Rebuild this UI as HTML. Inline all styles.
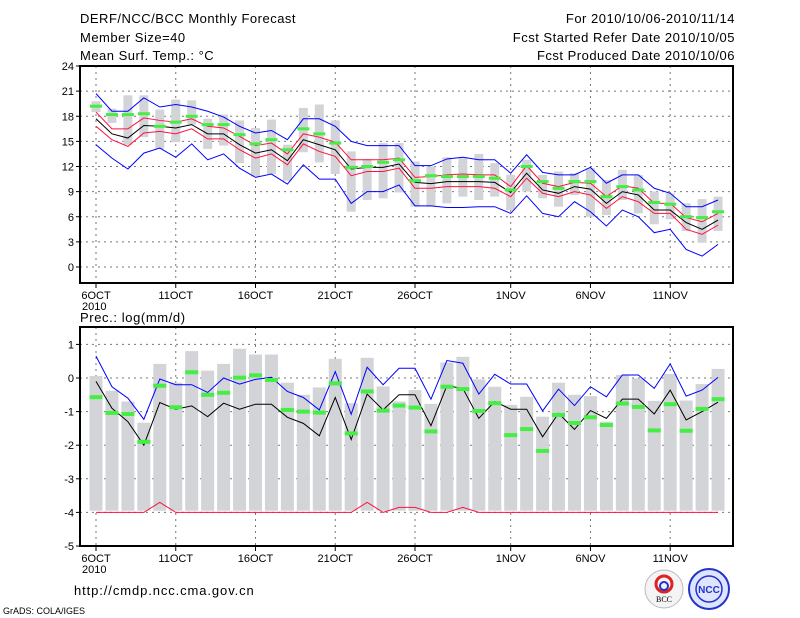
<!DOCTYPE html>
<html><head><meta charset="utf-8"><style>
body{margin:0;background:#fff;}
svg{display:block;font-family:"Liberation Sans",sans-serif;}
</style></head><body>
<svg id="c" width="800" height="618" viewBox="0 0 800 618">
<g font-size="13" fill="#000" letter-spacing="0.5">
<text x="80" y="23">DERF/NCC/BCC Monthly Forecast</text>
<text x="80" y="42">Member Size=40</text>
<text x="80" y="60">Mean Surf. Temp.: °C</text>
<text x="735" y="23" text-anchor="end">For 2010/10/06-2010/11/14</text>
<text x="735" y="42" text-anchor="end">Fcst Started Refer Date 2010/10/05</text>
<text x="735" y="60" text-anchor="end">Fcst Produced Date 2010/10/06</text>
</g>
<text x="80" y="322" font-size="13" letter-spacing="0.6">Prec.: log(mm/d)</text>
<text x="74" y="595" font-size="13" letter-spacing="0.9">http://cmdp.ncc.cma.gov.cn</text>
<text x="3" y="614" font-size="9">GrADS: COLA/IGES</text>
<g>
<circle cx="664" cy="589" r="19" fill="#f4f4f4" stroke="#bbb"/>
<circle cx="664" cy="584" r="8" fill="none" stroke="#d22" stroke-width="3"/>
<circle cx="664" cy="586" r="4" fill="none" stroke="#23c" stroke-width="2"/>
<text x="664" y="602" font-size="8" text-anchor="middle" font-family="Liberation Serif,serif">BCC</text>
</g>
<g>
<circle cx="709" cy="589" r="20" fill="#dfe4ff" stroke="#23c" stroke-width="2"/>
<circle cx="709" cy="589" r="13" fill="none" stroke="#23c" stroke-width="1.5"/>
<text x="709" y="593" font-size="10" text-anchor="middle" fill="#23c" font-weight="bold">NCC</text>
</g>
</svg>
<script>
const days=["6OCT","11OCT","16OCT","21OCT","26OCT","1NOV","6NOV","11NOV"];
const dayIdx=[0,5,10,15,20,26,31,36];
const tTicks=[0,3,6,9,12,15,18,21,24];
const pTicks=[-5,-4,-3,-2,-1,0,1];
const tBlack=[17.7,15.9,15.4,16.9,16.8,16.6,17.0,15.9,15.9,14.6,13.6,14.0,12.7,15.2,14.6,14.0,11.7,11.9,11.9,12.3,10.1,9.95,10.2,10.2,10.2,10.1,8.9,11.2,9.2,8.8,9.6,9.3,7.6,9.0,8.6,6.8,6.8,5.3,4.5,5.6];
const tRedHi=[18.5,16.5,16.5,17.8,17.5,17.3,17.7,16.8,16.6,15.6,14.5,14.8,13.5,15.9,15.5,14.9,12.8,12.8,12.8,13.0,10.7,10.8,11.0,11.1,11.0,11.0,9.6,12.1,10.0,9.6,10.1,10.0,8.4,9.7,9.4,7.6,7.6,5.9,5.4,6.4];
const tRedLo=[16.8,15.2,14.4,16.0,16.2,15.9,16.5,15.3,15.3,14.0,13.0,13.5,12.2,14.7,13.8,13.2,10.9,11.4,11.4,11.8,9.4,9.4,9.6,9.6,9.6,9.4,8.4,10.6,8.8,8.4,9.0,8.6,7.0,8.4,7.8,6.4,6.4,4.5,3.9,5.0];
const tBlueHi=[20.7,18.6,18.6,20.2,19.1,19.4,19.1,18.6,17.9,16.8,16.0,16.3,15.2,17.7,17.7,16.8,15.0,14.5,14.5,14.5,12.1,12.1,12.9,13.1,12.8,12.8,11.2,13.4,11.3,11.0,11.0,11.9,10.0,11.0,11.0,9.4,8.8,7.2,7.2,8.0];
const tBlueLo=[14.6,13.0,11.7,13.6,14.2,13.1,14.7,12.8,13.5,11.8,10.7,11.1,9.9,12.2,10.5,10.5,7.6,9.0,9.0,9.8,7.3,7.3,7.1,7.1,7.2,7.2,6.4,8.5,6.4,6.0,7.8,6.6,4.9,6.8,6.0,4.1,4.5,2.1,1.3,2.7];
const tObs=[19.2,18.2,18.2,18.3,16.8,17.3,18.0,17.0,17.0,15.8,14.7,15.2,14.0,16.5,15.9,14.8,11.9,12.0,12.5,12.8,10.3,10.9,10.8,10.8,10.8,10.6,9.2,12.0,10.2,9.4,10.2,10.2,8.4,9.6,9.2,7.7,7.5,6.0,5.9,6.6];
const tBarHi=[19.8,18.9,20.5,20.5,18.8,20.0,19.9,17.7,18.2,17.5,16.6,17.6,14.6,19.0,19.4,17.5,13.8,12.9,14.8,14.8,12.6,12.0,13.1,13.0,13.5,12.4,11.0,12.8,11.0,11.4,11.2,11.8,10.4,11.6,11.0,9.0,8.8,7.6,8.1,8.4];
const tBarLo=[18.5,17.2,14.6,15.5,14.1,14.9,17.0,14.1,14.5,12.4,10.8,11.1,10.3,13.7,12.5,11.1,6.6,8.0,8.2,8.9,7.2,7.2,7.6,8.4,8.0,8.4,6.8,9.0,8.2,7.2,8.6,6.0,6.2,8.0,6.4,5.1,5.7,4.3,2.9,4.3];
const pBlue=[0.65,-0.26,-0.6,-1.23,-0.03,-0.2,-0.2,-0.43,0,-0.18,-0.04,0.02,-0.4,-0.58,-0.95,0.19,-1.08,0.32,-0.2,0.29,0.29,-0.63,0.52,0.44,-0.48,0.11,-0.18,-0.18,-0.98,-0.33,-0.82,-0.26,-0.56,0.09,0.09,-0.31,0.42,-0.54,-0.36,0.02];
const pBlack=[-0.1,-0.9,-1.3,-2.0,-0.73,-0.93,-0.83,-1.15,-0.75,-0.93,-0.78,-0.78,-1.17,-1.35,-1.72,-0.58,-1.83,-0.48,-0.95,-0.5,-0.5,-1.42,-0.23,-0.31,-1.2,-0.7,-0.93,-0.93,-1.75,-1.05,-1.53,-0.97,-1.2,-0.63,-0.63,-1.07,-0.36,-1.25,-1.0,-0.72];
const pObs=[-0.57,-1.04,-1.07,-1.9,-0.23,-0.87,0.17,-0.5,-0.44,0.01,0.08,-0.06,-0.95,-1.0,-1.03,-0.16,-1.65,-0.4,-0.97,-0.82,-0.88,-1.59,-0.26,-0.33,-0.98,-0.75,-1.7,-1.52,-2.17,-1.1,-1.34,-1.17,-1.4,-0.76,-0.86,-1.56,-0.78,-1.57,-0.92,-0.63];
const pBarHi=[0.06,-0.38,-0.7,-1.33,0.42,-0.14,0.8,0.22,0.42,0.87,0.7,0.7,-0.14,-0.5,-0.28,0.57,-0.75,0.6,-0.25,-0.7,-0.36,-0.77,0.46,0.63,-0.04,-0.26,-0.8,-0.56,-1.15,-0.14,-0.5,-0.54,-1.3,0.09,-0.01,-0.68,0.12,-0.67,-0.18,0.27];
const pRed=[-4,-4,-4,-4,-3.7,-4,-4,-4,-4,-4,-4,-4,-4,-4,-4,-4,-4,-3.7,-4,-3.85,-3.85,-4,-4,-3.85,-4,-4,-4,-4,-4,-4,-4,-4,-4,-4,-4,-4,-4,-4,-4,-4];
const pBase=-3.95;

const NS="http://www.w3.org/2000/svg";
const svg=document.getElementById('c');
const X0=80,X1=733;
const xd=i=>96+i*15.95;
const yT=v=>267-v*8.375;
const yP=v=>378-v*33.6;
function mk(tag,attrs,parent){const e=document.createElementNS(NS,tag);for(const k in attrs)e.setAttribute(k,attrs[k]);(parent||svg).appendChild(e);return e;}
function line(arr,yf,color,name,g){
  const p=mk('polyline',{points:arr.map((v,i)=>xd(i)+','+yf(v)).join(' '),fill:'none',stroke:color,'stroke-width':1},g);
  
  
}
function panel(top,bot,ticks,yf,pname){
  const g=mk('g',{});
  
  
  ticks.forEach(t=>{
    const y=yf(t);
    if(y>top+1&&y<bot-1){const gl=mk('line',{x1:X0,x2:X1,y1:y,y2:y,stroke:'#777','stroke-dasharray':'2,4'},g);
    
    }
    mk('line',{x1:X0-4,x2:X0,y1:y,y2:y,stroke:'#000'},g);
    const tx=mk('text',{x:X0-6,y:y+4,'font-size':11,'text-anchor':'end'},g);tx.textContent=t;
    
    
  });
  dayIdx.forEach((d,k)=>{
    const x=xd(d);
    const gl=mk('line',{x1:x,x2:x,y1:top,y2:bot,stroke:'#777','stroke-dasharray':'2,4'},g);
    
    
    mk('line',{x1:x,x2:x,y1:bot,y2:bot+5,stroke:'#000'},g);
    const tx=mk('text',{x:x,y:bot+16,'font-size':11,'text-anchor':'middle'},g);tx.textContent=days[k];
    
    
  });
  const yr=mk('text',{x:82,y:bot+27,'font-size':11},g);yr.textContent='2010';
  
  
  return g;
}
// top panel
const gt=panel(66,283,tTicks,yT,'temperature-panel');
tBarHi.forEach((v,i)=>{const r=mk('rect',{x:xd(i)-4.5,y:yT(v),width:9,height:yT(tBarLo[i])-yT(v),fill:'#d3d4d8'},gt);

});
line(tBlueHi,yT,'#0000ff','temp-blue-upper',gt);
line(tBlueLo,yT,'#0000ff','temp-blue-lower',gt);
line(tRedHi,yT,'#ff1040','temp-red-upper',gt);
line(tRedLo,yT,'#ff1040','temp-red-lower',gt);
line(tBlack,yT,'#000','temp-ensemble-mean',gt);
tObs.forEach((v,i)=>{const r=mk('rect',{x:xd(i)-6,y:yT(v)-1.5,width:12,height:3,fill:'#44ee44'},gt);

});
const ft=mk('rect',{x:X0,y:66,width:X1-X0,height:217,fill:'none',stroke:'#000','stroke-width':2},gt);


// bottom panel
const gp=panel(327,546,pTicks,yP,'precip-panel');
pBarHi.forEach((v,i)=>{const r=mk('rect',{x:xd(i)-6.5,y:yP(v),width:13,height:yP(pBase)-yP(v),fill:'#d3d4d8'},gp);

});
line(pRed,yP,'#ff1040','precip-red-line',gp);
line(pBlue,yP,'#0000ff','precip-blue-line',gp);
line(pBlack,yP,'#000','precip-ensemble-mean',gp);
pObs.forEach((v,i)=>{const r=mk('rect',{x:xd(i)-6.5,y:yP(v)-2,width:13,height:4,fill:'#44ee44'},gp);

});
const fp=mk('rect',{x:X0,y:327,width:X1-X0,height:219,fill:'none',stroke:'#000','stroke-width':2},gp);


</script>
</body></html>
